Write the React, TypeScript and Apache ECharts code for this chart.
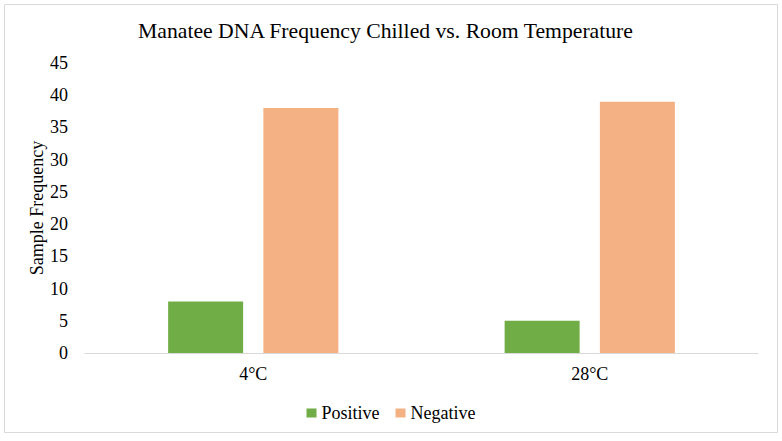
import React, { useEffect, useRef } from "react";
import * as echarts from "echarts";

const categories = ["4°C", "28°C"];
const seriesNames = ["Positive", "Negative"];
const positiveValues = [8, 5];
const negativeValues = [38, 39];
const yTicks = { min: 0, max: 45, interval: 5 };

const FONT = "Liberation Serif";

const serif = (size: number) => ({
  fontFamily: FONT,
  fontSize: size,
  fontWeight: "normal" as const,
  color: "#000",
});

export default function App() {
  const ref = useRef<HTMLDivElement>(null);

  useEffect(() => {
    if (!ref.current) return;
    const chart = echarts.init(ref.current, undefined, { renderer: "svg" });
    chart.setOption({
      animation: false,
      backgroundColor: "#ffffff",
      textStyle: { fontFamily: FONT },
      title: {
        text: "Manatee DNA Frequency Chilled vs. Room Temperature",
        left: 138,
        top: 15,
        padding: [5, 0],
        textStyle: serif(21.7),
      },
      graphic: [
        {
          type: "rect",
          shape: { x: 4.5, y: 4.5, width: 773, height: 428 },
          style: { fill: "none", stroke: "#d9d9d9", lineWidth: 1 },
          silent: true,
        },
      ],
      legend: {
        data: seriesNames,
        top: 399,
        left: "center",
        icon: "rect",
        itemWidth: 10,
        itemHeight: 9,
        itemGap: 16,
        textStyle: serif(18),
      },
      grid: { left: 85, right: 24, top: 63, bottom: 88 },
      xAxis: {
        type: "category",
        data: categories,
        axisLine: { show: true, lineStyle: { color: "#d9d9d9", width: 1 } },
        axisTick: { show: false },
        axisLabel: { ...serif(18), margin: 12 },
      },
      yAxis: {
        type: "value",
        min: yTicks.min,
        max: yTicks.max,
        interval: yTicks.interval,
        name: "Sample Frequency",
        nameLocation: "middle",
        nameGap: 39,
        nameMoveOverlap: false,
        nameTextStyle: serif(18),
        axisLine: { show: false },
        axisTick: { show: false },
        splitLine: { show: false },
        axisLabel: { ...serif(18), margin: 17 },
      },
      series: [
        {
          name: seriesNames[0],
          type: "bar",
          data: positiveValues,
          barWidth: 75,
          barGap: "27%",
          itemStyle: { color: "#70AD47" },
        },
        {
          name: seriesNames[1],
          type: "bar",
          data: negativeValues,
          barWidth: 75,
          barGap: "27%",
          itemStyle: { color: "#F4B183" },
        },
      ],
    });
    return () => chart.dispose();
  }, []);

  return (
    <div
      ref={ref}
      style={{ position: "fixed", left: 0, top: 0, width: 782, height: 441 }}
    />
  );
}
